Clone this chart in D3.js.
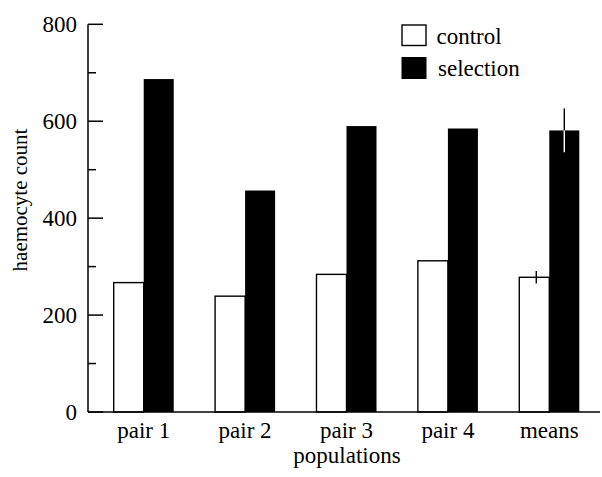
<!DOCTYPE html>
<html>
<head>
<meta charset="utf-8">
<script src="https://cdn.jsdelivr.net/npm/d3@7"></script>
<style>
  html, body { margin: 0; padding: 0; background: #fff; }
  svg { display: block; }
</style>
</head>
<body>
<svg id="chart" width="602" height="477" font-family="'Liberation Serif', 'Times New Roman', serif"></svg>
<script>
const groups = ['pair 1', 'pair 2', 'pair 3', 'pair 4', 'means'];
const controlValues = [267, 239, 284, 312, 278];
const selectionValues = [687, 457, 590, 585, 581];
const controlMeanError = 13;
const selectionMeanError = 45;
const yTicks = [0, 200, 400, 600, 800];
const yMinorTicks = [100, 300, 500, 700];
const seriesNames = ['control', 'selection'];

const svg = d3.select('#chart');
const axisX = 88;
const baseY = 412;

const yScale = d3.scaleLinear().domain([0, 800]).range([baseY, 24.3]);
const xScale = d3.scaleBand().domain(groups).range([113.7, 579.3]).paddingInner(0.408).paddingOuter(0);
const inner = d3.scaleBand().domain(seriesNames).range([0, xScale.bandwidth()]);

// bars
const rows = groups.map((g, i) => ({ group: g, control: controlValues[i], selection: selectionValues[i] }));
const barGroup = svg.append('g');
rows.forEach(row => {
  barGroup.append('rect')
    .attr('x', xScale(row.group) + inner('control'))
    .attr('y', yScale(row.control))
    .attr('width', inner.bandwidth())
    .attr('height', baseY - yScale(row.control))
    .attr('fill', '#fff')
    .attr('stroke', '#000')
    .attr('stroke-width', 1.4);
  barGroup.append('rect')
    .attr('x', xScale(row.group) + inner('selection'))
    .attr('y', yScale(row.selection))
    .attr('width', inner.bandwidth())
    .attr('height', baseY - yScale(row.selection))
    .attr('fill', '#000');
});

// error bars on the means
const meanIdx = groups.indexOf('means');
const cx = xScale('means') + inner('control') + inner.bandwidth() / 2 + 2;
barGroup.append('line')
  .attr('x1', cx).attr('x2', cx)
  .attr('y1', yScale(controlValues[meanIdx] + controlMeanError))
  .attr('y2', yScale(controlValues[meanIdx] - controlMeanError))
  .attr('stroke', '#000').attr('stroke-width', 1.4);
const sx = xScale('means') + inner('selection') + inner.bandwidth() / 2;
const sTop = selectionValues[meanIdx];
barGroup.append('line')
  .attr('x1', sx).attr('x2', sx)
  .attr('y1', yScale(sTop + selectionMeanError))
  .attr('y2', yScale(sTop))
  .attr('stroke', '#000').attr('stroke-width', 1.4);
barGroup.append('line')
  .attr('x1', sx).attr('x2', sx)
  .attr('y1', yScale(sTop))
  .attr('y2', yScale(sTop - selectionMeanError))
  .attr('stroke', '#fff').attr('stroke-width', 1.4);

// y axis
const yAxis = svg.append('g').attr('transform', `translate(${axisX},0)`);
yAxis.append('line')
  .attr('x1', 0).attr('x2', 0)
  .attr('y1', yScale(800)).attr('y2', baseY)
  .attr('stroke', '#000').attr('stroke-width', 1.5);
yAxis.selectAll('.major').data(yTicks).join('line')
  .attr('x1', 0).attr('x2', 15)
  .attr('y1', d => yScale(d)).attr('y2', d => yScale(d))
  .attr('stroke', '#000').attr('stroke-width', 1.5);
yAxis.selectAll('.minor').data(yMinorTicks).join('line')
  .attr('x1', 0).attr('x2', 8)
  .attr('y1', d => yScale(d)).attr('y2', d => yScale(d))
  .attr('stroke', '#000').attr('stroke-width', 1.5);
yAxis.selectAll('text').data(yTicks).join('text')
  .attr('x', -11)
  .attr('y', d => yScale(d))
  .attr('dy', '0.34em')
  .attr('text-anchor', 'end')
  .attr('font-size', 23)
  .text(d => d);

// x axis
svg.append('line')
  .attr('x1', axisX).attr('x2', 600)
  .attr('y1', baseY).attr('y2', baseY)
  .attr('stroke', '#000').attr('stroke-width', 1.5);
svg.append('g').selectAll('text').data(groups).join('text')
  .attr('x', d => xScale(d) + xScale.bandwidth() / 2)
  .attr('y', 438)
  .attr('text-anchor', 'middle')
  .attr('font-size', 23)
  .text(d => d);

// axis titles
svg.append('text')
  .attr('x', 347)
  .attr('y', 463)
  .attr('text-anchor', 'middle')
  .attr('font-size', 23)
  .text('populations');
svg.append('text')
  .attr('transform', 'translate(27,200) rotate(-90)')
  .attr('text-anchor', 'middle')
  .attr('font-size', 21)
  .text('haemocyte count');

// legend
const legend = svg.append('g');
const legendY = [25, 57];
seriesNames.forEach((name, i) => {
  legend.append('rect')
    .attr('x', name === 'control' ? 402 : 401.5)
    .attr('y', legendY[i])
    .attr('width', name === 'control' ? 24 : 25)
    .attr('height', name === 'control' ? 20.5 : 22)
    .attr('fill', name === 'control' ? '#fff' : '#000')
    .attr('stroke', '#000')
    .attr('stroke-width', name === 'control' ? 1.4 : 0);
  legend.append('text')
    .attr('x', name === 'control' ? 436.5 : 438)
    .attr('y', legendY[i] + 19)
    .attr('font-size', 23)
    .text(name);
});
</script>
</body>
</html>
